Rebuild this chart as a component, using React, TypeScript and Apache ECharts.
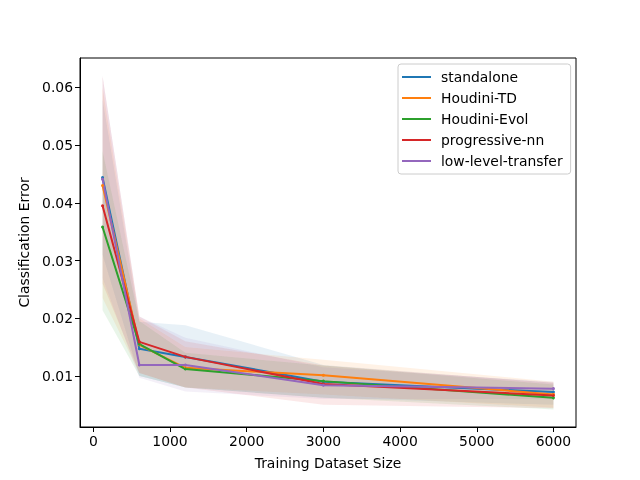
import React, { useEffect, useRef } from "react";
import * as echarts from "echarts";

const sizes = [120, 600, 1200, 3000, 6000];
const names = ["standalone", "Houdini-TD", "Houdini-Evol", "progressive-nn", "low-level-transfer"];
const colors = ["#1f77b4", "#ff7f0e", "#2ca02c", "#d62728", "#9467bd"];

const standaloneMean = [0.0444, 0.0147, 0.0133, 0.009, 0.0072];
const standaloneUpper = [0.058, 0.0194, 0.0188, 0.0119, 0.0088];
const standaloneLower = [0.031, 0.01, 0.008, 0.0062, 0.005];

const tdMean = [0.043, 0.0154, 0.0114, 0.0101, 0.0068];
const tdUpper = [0.06, 0.02, 0.015, 0.0128, 0.009];
const tdLower = [0.0235, 0.0105, 0.008, 0.0068, 0.0045];

const evolMean = [0.0358, 0.0155, 0.0112, 0.0091, 0.0062];
const evolUpper = [0.049, 0.0195, 0.014, 0.0118, 0.0085];
const evolLower = [0.0214, 0.01, 0.008, 0.0062, 0.0042];

const pnnMean = [0.0395, 0.0159, 0.0133, 0.0086, 0.0066];
const pnnUpper = [0.062, 0.0203, 0.016, 0.0118, 0.0088];
const pnnLower = [0.026, 0.0105, 0.008, 0.005, 0.0044];

const lltMean = [0.0441, 0.0119, 0.0119, 0.0084, 0.0078];
const lltUpper = [0.062, 0.0203, 0.0166, 0.0115, 0.009];
const lltLower = [0.027, 0.0097, 0.0073, 0.006, 0.006];

const xTicks = [0, 1000, 2000, 3000, 4000, 5000, 6000];
const yTicks = [0.01, 0.02, 0.03, 0.04, 0.05, 0.06];

const means = [standaloneMean, tdMean, evolMean, pnnMean, lltMean];
const uppers = [standaloneUpper, tdUpper, evolUpper, pnnUpper, lltUpper];
const lowers = [standaloneLower, tdLower, evolLower, pnnLower, lltLower];

const FONT = "DejaVu Sans";

export default function App() {
  const ref = useRef<HTMLDivElement>(null);
  useEffect(() => {
    if (!ref.current) return;
    const chart = echarts.init(ref.current, undefined, { renderer: "svg" });
    const series: any[] = [];
    names.forEach((n, i) => {
      const data = sizes.map((x, k) => [x, lowers[i][k], uppers[i][k]]);
      series.push({
        name: n + " band",
        type: "custom",
        data,
        silent: true,
        z: 1,
        encode: { x: 0, y: [1, 2] },
        renderItem: (params: any, api: any) => {
          if (params.dataIndex !== 0) return null;
          const top = data.map((d) => api.coord([d[0], d[2]]));
          const bottom = data.map((d) => api.coord([d[0], d[1]])).reverse();
          return {
            type: "polygon",
            shape: { points: top.concat(bottom) },
            style: { fill: colors[i], opacity: 0.1 },
          };
        },
      });
    });
    names.forEach((n, i) => {
      series.push({
        name: n,
        type: "line",
        data: sizes.map((x, k) => [x, means[i][k]]),
        symbol: "circle",
        symbolSize: 3,
        lineStyle: { color: colors[i], width: 2 },
        itemStyle: { color: colors[i] },
        z: 5,
      });
    });
    chart.setOption({
      animation: false,
      textStyle: { fontFamily: FONT },
      grid: {
        left: 80,
        top: 58,
        right: 64,
        bottom: 53,
        show: true,
        borderColor: "#000",
        borderWidth: 1,
        backgroundColor: "transparent",
      },
      xAxis: {
        type: "value",
        min: -174,
        max: 6294,
        name: "Training Dataset Size",
        nameLocation: "middle",
        nameGap: 29,
        nameTextStyle: { fontFamily: FONT, fontSize: 13.9, color: "#000" },
        axisLine: { show: true, onZero: false, lineStyle: { color: "#000", width: 1 } },
        axisTick: { show: true, inside: false, length: 5, customValues: xTicks, lineStyle: { color: "#000" } },
        axisLabel: {
          customValues: xTicks,
          fontFamily: FONT,
          fontSize: 13.9,
          color: "#000",
          margin: 7,
          formatter: (v: number) => String(v),
        },
        splitLine: { show: false },
      },
      yAxis: {
        type: "value",
        min: 0.00115,
        max: 0.0651,
        name: "Classification Error",
        nameLocation: "middle",
        nameGap: 47,
        nameTextStyle: { fontFamily: FONT, fontSize: 13.9, color: "#000" },
        axisLine: { show: true, onZero: false, lineStyle: { color: "#000", width: 1 } },
        axisTick: { show: true, inside: false, length: 5, customValues: yTicks, lineStyle: { color: "#000" } },
        axisLabel: {
          customValues: yTicks,
          fontFamily: FONT,
          fontSize: 13.9,
          color: "#000",
          margin: 7,
          formatter: (v: number) => v.toFixed(2),
        },
        splitLine: { show: false },
      },
      legend: {
        data: names.map((n, i) => ({ name: n, itemStyle: { color: colors[i] } })),
        orient: "vertical",
        left: 398,
        top: 64,
        icon: "rect",
        itemWidth: 29,
        itemHeight: 2,
        itemGap: 7,
        padding: [6, 8, 6, 4],
        borderColor: "#ccc",
        borderWidth: 1,
        borderRadius: 3,
        backgroundColor: "rgba(255,255,255,0.8)",
        textStyle: { fontFamily: FONT, fontSize: 13.9, color: "#000", lineHeight: 14, padding: [0, 0, 0, 5] },
      },
      series,
    });
    return () => chart.dispose();
  }, []);
  return <div ref={ref} style={{ position: "fixed", left: 0, top: 0, width: 640, height: 480 }} />;
}
